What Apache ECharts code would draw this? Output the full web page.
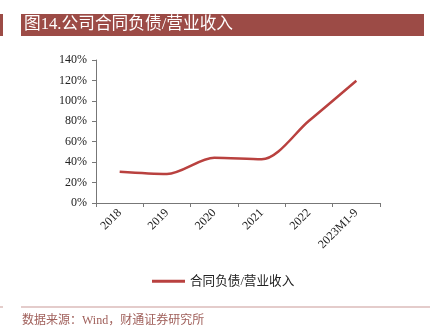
<!DOCTYPE html>
<html>
<head>
<meta charset="utf-8">
<script src="https://cdn.jsdelivr.net/npm/echarts@6/dist/echarts.min.js"></script>
<style>
  html, body { margin: 0; padding: 0; background: #fff; }
  #chart { width: 430px; height: 333px; }
</style>
</head>
<body>
<div id="chart"></div>
<script>
// Contract liabilities as a share of operating revenue
const categories = ['2018', '2019', '2020', '2021', '2022', '2023M1-9'];
const ratioValues = [30.6, 28.4, 44.2, 42.8, 80.5, 119.7];
const yTicks = [0, 20, 40, 60, 80, 100, 120, 140];

const titleText = '图14.公司合同负债/营业收入';
const seriesName = '合同负债/营业收入';
const sourceText = '数据来源：Wind，财通证券研究所';

const serif = "'Liberation Serif', 'Times New Roman', 'Noto Sans CJK SC', serif";
const brand = '#9c4b46';

const chart = echarts.init(document.getElementById('chart'), null, { renderer: 'canvas' });

chart.setOption({
  animation: false,
  backgroundColor: '#fff',
  graphic: [
    { type: 'rect', shape: { x: 0, y: 14, width: 3, height: 22 }, style: { fill: brand } },
    { type: 'rect', shape: { x: 21, y: 14, width: 403, height: 22 }, style: { fill: brand } },
    { type: 'text', x: 24, y: 25, style: { text: titleText, fill: '#fff', font: "16.7px " + serif, verticalAlign: 'middle' } },
    { type: 'rect', shape: { x: 0, y: 306.5, width: 3, height: 1 }, style: { fill: '#c99a97' } },
    { type: 'rect', shape: { x: 21, y: 306.5, width: 409, height: 1 }, style: { fill: '#c99a97' } },
    { type: 'text', x: 22, y: 321, style: { text: sourceText, fill: '#a0605b', font: "12px " + serif, verticalAlign: 'middle' } }
  ],
  legend: {
    data: [seriesName],
    left: 147,
    top: 270,
    itemWidth: 33,
    itemHeight: 3,
    itemGap: 5,
    icon: 'rect',
    textStyle: { fontFamily: serif, fontSize: 12.6, color: '#222' }
  },
  grid: { left: 96, right: 50, top: 60, bottom: 130, containLabel: false },
  xAxis: {
    type: 'category',
    data: categories,
    boundaryGap: true,
    axisLine: { lineStyle: { color: '#777', width: 1 } },
    axisTick: { show: true, alignWithLabel: false, length: 4, lineStyle: { color: '#777' } },
    axisLabel: { rotate: 45, color: '#222', fontFamily: serif, fontSize: 12, margin: 8, interval: 0 }
  },
  yAxis: {
    type: 'value',
    min: 0,
    max: 140,
    interval: 20,
    axisLine: { show: true, lineStyle: { color: '#777', width: 1 } },
    axisTick: { show: true, length: 4, lineStyle: { color: '#777' } },
    splitLine: { show: false },
    axisLabel: {
      color: '#222', fontFamily: serif, fontSize: 12, margin: 9,
      formatter: v => (yTicks.includes(v) ? v + '%' : '')
    }
  },
  series: [{
    name: seriesName,
    type: 'line',
    data: ratioValues,
    smooth: 0.3,
    symbol: 'none',
    lineStyle: { color: '#b9413f', width: 2.5 },
    itemStyle: { color: '#b9413f' }
  }]
});
</script>
</body>
</html>
